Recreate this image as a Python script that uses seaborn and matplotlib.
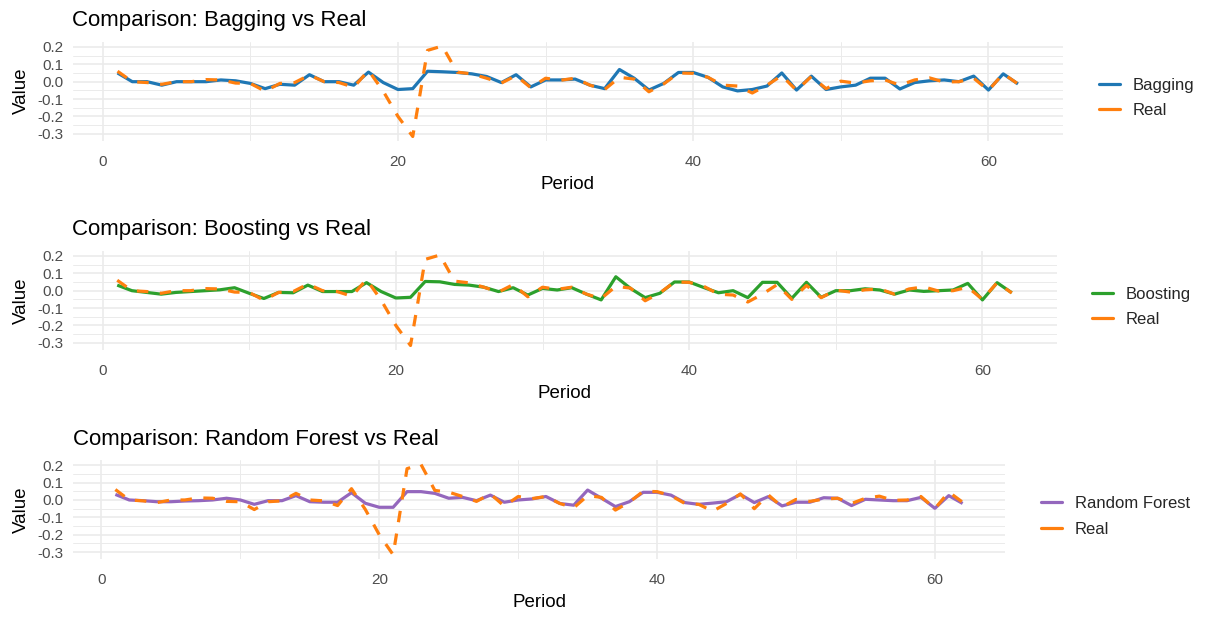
import numpy as np
import pandas as pd
import matplotlib
matplotlib.use("Agg")
import matplotlib.pyplot as plt
from matplotlib.lines import Line2D
from matplotlib.ticker import FixedLocator
import seaborn as sns

# ---- data -------------------------------------------------------------
period = list(range(1, 63))

real = [0.06, 0.0, -0.005, -0.015, 0.0, 0.0, 0.012, 0.01, -0.008, -0.01,
        -0.055, -0.01, -0.005, 0.038, 0.0, -0.005, -0.032, 0.065, -0.055, -0.2,
        -0.315, 0.18, 0.205, 0.055, 0.045, 0.02, -0.008, 0.035, -0.035, 0.02,
        0.008, 0.02, -0.02, -0.045, 0.025, 0.015, -0.058, -0.013, 0.05, 0.048,
        0.025, -0.02, -0.025, -0.065, -0.02, 0.035, -0.05, 0.03, -0.04, 0.003,
        -0.008, 0.005, 0.01, -0.02, 0.01, 0.022, -0.002, 0.0, 0.02, -0.05,
        0.046, -0.013]

bagging = [0.05, 0.0, 0.0, -0.02, 0.0, 0.0, 0.0, 0.01, 0.005, -0.01,
           -0.04, -0.015, -0.02, 0.04, 0.0, 0.0, -0.02, 0.055, -0.005, -0.045,
           -0.04, 0.06, 0.057, 0.053, 0.045, 0.03, -0.005, 0.04, -0.03, 0.01,
           0.01, 0.015, -0.02, -0.04, 0.07, 0.02, -0.048, -0.01, 0.053, 0.053,
           0.025, -0.03, -0.053, -0.045, -0.025, 0.05, -0.048, 0.032, -0.045, -0.03,
           -0.02, 0.02, 0.02, -0.042, -0.005, 0.005, 0.01, 0.0, 0.032, -0.048,
           0.045, -0.013]

boosting = [0.032, 0.0, -0.01, -0.02, -0.01, -0.005, 0.0, 0.005, 0.017, -0.015,
            -0.045, -0.01, -0.012, 0.032, -0.005, -0.005, -0.005, 0.046, -0.005, -0.042,
            -0.038, 0.053, 0.051, 0.036, 0.032, 0.02, -0.005, 0.017, -0.025, 0.013,
            0.004, 0.017, -0.02, -0.053, 0.08, 0.013, -0.04, -0.015, 0.05, 0.05,
            0.018, -0.012, 0.0, -0.04, 0.048, 0.048, -0.044, 0.048, -0.038, 0.0,
            0.0, 0.011, 0.004, -0.02, 0.004, -0.004, 0.0, 0.004, 0.042, -0.053,
            0.046, -0.012]

random_forest = [0.032, 0.0, -0.004, -0.01, -0.01, -0.006, -0.004, 0.0, 0.01, 0.0,
                 -0.025, -0.004, -0.004, 0.025, -0.01, -0.013, -0.013, 0.042, -0.019, -0.042,
                 -0.042, 0.048, 0.048, 0.038, 0.01, 0.015, -0.004, 0.028, -0.013, 0.0,
                 0.006, 0.02, -0.02, -0.03, 0.057, 0.01, -0.038, -0.01, 0.044, 0.044,
                 0.028, -0.015, -0.025, -0.018, -0.01, 0.032, -0.015, 0.019, -0.034, -0.013,
                 -0.013, 0.013, 0.01, -0.032, 0.004, 0.0, -0.004, -0.004, 0.015, -0.048,
                 0.025, -0.02]

models = ["Bagging", "Boosting", "Random Forest"]
model_values = [bagging, boosting, random_forest]
model_colors = ["#1F77B4", "#2CA02C", "#9467BD"]
real_color = "#FF7F0E"

x_breaks = [0, 20, 40, 60]
y_breaks = [-0.3, -0.2, -0.1, 0.0, 0.1, 0.2]

# ---- style ------------------------------------------------------------
sns.set_theme(style="whitegrid")
plt.rcParams["font.family"] = ["Liberation Sans", "DejaVu Sans"]
plt.rcParams["axes.unicode_minus"] = False

W, H = 1208, 617
fig = plt.figure(figsize=(W / 100, H / 100), dpi=100)

# panel boxes in pixels: left, right, top, bottom
boxes = [(72.5, 1063, 41.5, 141.0),
         (72.5, 1056.5, 250.5, 350.0),
         (73, 1005, 459.8, 559.3)]
legend_x = [1099, 1092, 1041]

grid_c = "#EBEBEB"

for i, (name, vals, col) in enumerate(zip(models, model_values, model_colors)):
    l, r, t, b = boxes[i]
    ax = fig.add_axes([l / W, 1 - b / H, (r - l) / W, (b - t) / H])

    df = pd.DataFrame({"Period": period, "Model": vals, "Real": real})
    sns.lineplot(data=df, x="Period", y="Model", ax=ax, color=col,
                 linewidth=2.3, solid_capstyle="butt", legend=False)
    sns.lineplot(data=df, x="Period", y="Real", ax=ax, color=real_color,
                 linewidth=2.3, linestyle=(0, (3.6, 3.6)),
                 dash_capstyle="butt", legend=False)

    # 5% expansion on both axes
    lo = min(min(vals), min(real))
    hi = max(max(vals), max(real))
    pad = (hi - lo) * 0.05
    ax.set_ylim(lo - pad, hi + pad)
    xpad = (max(period) - min(period)) * 0.05
    ax.set_xlim(min(period) - xpad, max(period) + xpad)

    ax.xaxis.set_major_locator(FixedLocator(x_breaks))
    ax.xaxis.set_minor_locator(FixedLocator([10, 30, 50]))
    ax.yaxis.set_major_locator(FixedLocator(y_breaks))
    ax.yaxis.set_minor_locator(FixedLocator([-0.25, -0.15, -0.05, 0.05, 0.15]))
    ax.set_yticklabels([f"{v:.1f}" for v in y_breaks])
    ax.set_xticklabels([str(v) for v in x_breaks])

    ax.grid(which="major", color=grid_c, linewidth=1.2)
    ax.grid(which="minor", color=grid_c, linewidth=0.7)
    ax.set_axisbelow(True)
    for s in ax.spines.values():
        s.set_visible(False)
    ax.set_facecolor("white")
    ax.tick_params(axis="both", which="both", length=0, labelsize=11,
                   labelcolor="#4D4D4D")
    ax.tick_params(axis="y", pad=6.5)
    ax.tick_params(axis="x", pad=9.8)

    ax.set_xlabel("Period", fontsize=13.5, color="black", labelpad=5.2)
    ax.set_ylabel("Value", fontsize=13.5, color="black", labelpad=5.5)
    ax.set_title(f"Comparison: {name} vs Real", loc="left", fontsize=16,
                 color="black", pad=11)

    handles = [Line2D([], [], color=col, linewidth=2.3),
               Line2D([], [], color=real_color, linewidth=2.3)]
    leg_cy = 1 - ((t + b) / 2 + 6.8) / H
    ax.legend(handles, [name, "Real"], loc="center left",
              bbox_to_anchor=(legend_x[i] / W, leg_cy),
              bbox_transform=fig.transFigure, frameon=False,
              fontsize=12, handlelength=1.25, handletextpad=0.78,
              labelspacing=0.62, borderpad=0, borderaxespad=0)

fig.savefig("out.png", dpi=100, facecolor="white")
